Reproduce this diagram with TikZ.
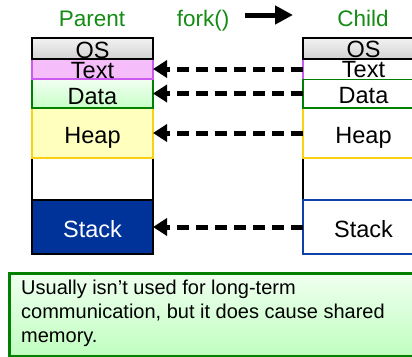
\documentclass[tikz,border=0pt]{standalone}
\usepackage{fontspec}
\setmainfont{Liberation Sans}
\usetikzlibrary{arrows.meta}
\definecolor{ttlgreen}{RGB}{20,140,20}
\definecolor{bxgreen}{RGB}{0,128,0}
\definecolor{bxviolet}{RGB}{204,90,240}
\definecolor{txfill}{RGB}{245,190,250}
\definecolor{hpfill}{RGB}{255,255,190}
\definecolor{hpline}{RGB}{250,210,20}
\definecolor{stblue}{RGB}{0,51,153}
\definecolor{stline}{RGB}{16,64,170}
\tikzset{
  seg/.style={draw, rectangle, inner sep=0pt, outer sep=0pt, anchor=north west, minimum width=121pt, line width=2.5pt},
  lbl/.style={font=\fontsize{23.5}{27}\selectfont, anchor=base, inner sep=0pt, text height=16.5pt, text depth=0pt},
  ttl/.style={font=\fontsize{22.5}{26}\selectfont, anchor=base, inner sep=0pt, text=ttlgreen},
  share/.style={line width=5pt, dash pattern=on 12pt off 7pt, -{Triangle[length=14pt,width=17pt]}},
}
\begin{document}
\begin{tikzpicture}[x=1pt,y=-1pt]
\clip (0,0) rectangle (412,356);
\fill[white] (0,0) rectangle (412,356);
% titles
\node[ttl] (tParent) at (92,27) {Parent};
\node[ttl] (tFork) at (203,27) {fork()};
\node[ttl] (tChild) at (363,27) {Child};
\coordinate (fa) at (245,15);
\coordinate (fb) at (293,15);
\draw[line width=5pt, -{Triangle[length=18pt,width=18pt]}] (fa) -- (fb);
% parent column
\draw[line width=2.5pt] (32,38) rectangle (153,254);
\node[seg, minimum height=50pt, draw=hpline, fill=hpfill] (pHeap) at (32,108) {};
\node[seg, minimum height=29pt, draw=bxgreen, top color=green!5!white, bottom color=green!22!white] (pData) at (32,79) {};
\node[seg, minimum height=20pt, draw=bxviolet, fill=txfill] (pText) at (32,59) {};
\node[seg, minimum height=21pt, draw=black, top color=gray!10, bottom color=gray!35] (pOS) at (32,38) {};
\node[seg, minimum height=54pt, draw=black, fill=stblue] (pStack) at (32,200) {};
\node[lbl] (lpOS) at (92.5,58) {OS};
\node[lbl] (lpText) at (92.5,78.5) {Text};
\node[lbl] (lpData) at (92.5,104) {Data};
\node[lbl] (lpHeap) at (92.5,143) {Heap};
\node[lbl, text=white] (lpStack) at (92.5,237) {Stack};
% child column
\draw[line width=2.5pt] (303,38) rectangle (424,254);
\node[seg, minimum height=50pt, draw=hpline, fill=white] (cHeap) at (303,108) {};
\node[seg, minimum height=29pt, draw=bxgreen, fill=white] (cData) at (303,79) {};
\node[seg, minimum height=20pt, draw=none, fill=white] (cText) at (303,59) {};
\draw[bxviolet, line width=2.5pt] (cText.north west) -- (cText.south west);
\node[seg, minimum height=21pt, draw=black, top color=gray!10, bottom color=gray!35] (cOS) at (303,38) {};
\node[seg, minimum height=54pt, draw=stline, fill=white] (cStack) at (303,200) {};
\node[lbl] (lcOS) at (363.5,57) {OS};
\node[lbl] (lcText) at (363.5,77.5) {Text};
\node[lbl] (lcData) at (363.5,103) {Data};
\node[lbl] (lcHeap) at (363.5,143) {Heap};
\node[lbl] (lcStack) at (363.5,237) {Stack};
% shared arrows
\draw[share] (cText.west) -- (pText.east);
\draw[share] (cData.west) -- (pData.east);
\draw[share] (cHeap.west) -- (pHeap.east);
\draw[share] (cStack.west) -- (pStack.east);
% note
\node[draw=bxgreen, line width=2.5pt, top color=green!6!white, bottom color=green!25!white, anchor=north west, minimum width=420pt, minimum height=83pt, inner sep=0pt] (note) at (8,272) {};
\node[anchor=north west, inner sep=0pt, align=left, font=\fontsize{20}{24}\selectfont] (noteText) at (21,280) {Usually isn’t used for long-term\\communication, but it does cause shared\\memory.};
\end{tikzpicture}
\end{document}
